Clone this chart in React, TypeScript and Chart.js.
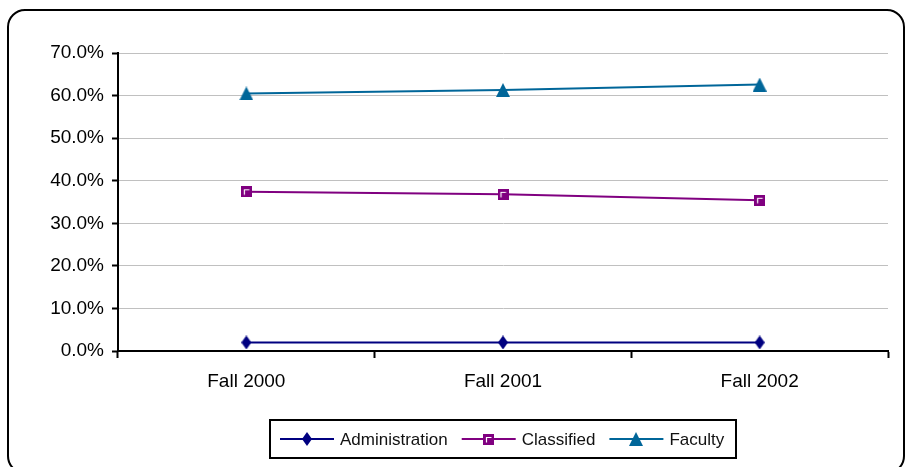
import React, { useEffect, useRef } from "react";
import { Chart, registerables } from "chart.js";

Chart.register(...registerables);

const categories = ["Fall 2000", "Fall 2001", "Fall 2002"];
const administration = [2.0, 2.0, 2.0];
const classified = [37.4, 36.8, 35.4];
const faculty = [60.5, 61.3, 62.6];
const yTicksMin = 0;
const yTicksMax = 70;
const yTickStep = 10;

const FONT = '"Liberation Sans", Arial, sans-serif';

function makeMarker(kind: string, color: string): HTMLCanvasElement {
  const c = document.createElement("canvas");
  const ctx = c.getContext("2d")!;
  if (kind === "diamond") {
    c.width = 10; c.height = 14;
    ctx.fillStyle = color;
    ctx.beginPath();
    ctx.moveTo(5, 0); ctx.lineTo(10, 7); ctx.lineTo(5, 14); ctx.lineTo(0, 7);
    ctx.closePath(); ctx.fill();
  } else if (kind === "square") {
    c.width = 11; c.height = 11;
    ctx.fillStyle = color;
    ctx.fillRect(0, 0, 11, 11);
    ctx.strokeStyle = "#ffffff";
    ctx.lineWidth = 1.2;
    ctx.beginPath();
    ctx.moveTo(3.5, 8.5); ctx.lineTo(3.5, 3.5); ctx.lineTo(8.5, 3.5);
    ctx.stroke();
  } else {
    c.width = 14; c.height = 14;
    ctx.fillStyle = color;
    ctx.beginPath();
    ctx.moveTo(7, 0); ctx.lineTo(14, 14); ctx.lineTo(0, 14);
    ctx.closePath(); ctx.fill();
  }
  return c;
}

const boxLegend = {
  id: "boxLegend",
  afterDraw(chart: any) {
    const ctx = chart.ctx as CanvasRenderingContext2D;
    const area = chart.chartArea;
    ctx.save();
    ctx.font = `17px ${FONT}`;
    const lineLen = 54, gapText = 6, gapItem = 14, padL = 10, padR = 12;
    const items = chart.data.datasets.map((ds: any) => ({
      label: ds.label,
      color: ds.borderColor,
      img: ds.pointStyle,
      w: ctx.measureText(ds.label).width,
    }));
    const total =
      padL + padR + gapItem * (items.length - 1) +
      items.reduce((s: number, it: any) => s + lineLen + gapText + it.w, 0);
    const cx = (area.left + area.right) / 2;
    const left = Math.round(cx - total / 2);
    const top = Math.round(area.bottom + 69);
    const h = 38;
    ctx.lineWidth = 2;
    ctx.strokeStyle = "#000";
    ctx.strokeRect(left, top, Math.round(total), h);
    const cy = top + h / 2;
    let x = left + padL;
    for (const it of items) {
      ctx.strokeStyle = it.color;
      ctx.lineWidth = 2;
      ctx.beginPath();
      ctx.moveTo(x, cy);
      ctx.lineTo(x + lineLen, cy);
      ctx.stroke();
      const img = it.img as HTMLCanvasElement;
      ctx.drawImage(img, Math.round(x + lineLen / 2 - img.width / 2), Math.round(cy - img.height / 2));
      x += lineLen + gapText;
      ctx.fillStyle = "#111";
      ctx.textBaseline = "middle";
      ctx.textAlign = "left";
      ctx.fillText(it.label, x, cy + 1);
      x += it.w + gapItem;
    }
    ctx.restore();
  },
};

export default function App() {
  const ref = useRef<HTMLCanvasElement>(null);
  useEffect(() => {
    const navy = "#000080";
    const purple = "#800080";
    const teal = "#006699";
    const chart = new Chart(ref.current!, {
      type: "line",
      data: {
        labels: categories,
        datasets: [
          { label: "Administration", data: administration, borderColor: navy, backgroundColor: navy, borderWidth: 2, pointStyle: makeMarker("diamond", navy) as any, pointRadius: 7 },
          { label: "Classified", data: classified, borderColor: purple, backgroundColor: purple, borderWidth: 2, pointStyle: makeMarker("square", purple) as any, pointRadius: 6 },
          { label: "Faculty", data: faculty, borderColor: teal, backgroundColor: teal, borderWidth: 2, pointStyle: makeMarker("triangle", teal) as any, pointRadius: 7 },
        ],
      },
      options: {
        responsive: false,
        animation: false,
        devicePixelRatio: 1,
        layout: { padding: { left: 0, top: 53, right: 18, bottom: 56 } },
        plugins: { legend: { display: false }, tooltip: { enabled: false } },
        scales: {
          x: {
            offset: true,
            afterFit: (s: any) => { s.height = 60; },
            border: { color: "#000", width: 2 },
            grid: { display: true, drawOnChartArea: false, offset: true, tickLength: 7, tickColor: "#000", tickWidth: 2 },
            ticks: { color: "#000", font: { family: FONT, size: 19 }, padding: 12, maxRotation: 0 },
          },
          y: {
            min: yTicksMin,
            max: yTicksMax,
            afterFit: (s: any) => { s.width = 118; },
            border: { color: "#000", width: 2 },
            grid: { color: "#c0c0c0", lineWidth: 1, tickLength: 6, tickColor: "#000", tickWidth: 2 },
            ticks: {
              stepSize: yTickStep,
              color: "#000",
              font: { family: FONT, size: 19 },
              padding: 8,
              callback: (v: any) => Number(v).toFixed(1) + "%",
            },
          },
        },
      },
      plugins: [boxLegend],
    });
    return () => chart.destroy();
  }, []);

  return (
    <div style={{ position: "fixed", left: 0, top: 0, width: 906, height: 467, overflow: "hidden", background: "#fff" }}>
      <div
        style={{
          position: "absolute", left: 7, top: 9, width: 898, height: 465,
          border: "2px solid #000", borderRadius: 18, boxSizing: "border-box",
        }}
      />
      <canvas ref={ref} width={906} height={467} style={{ position: "absolute", left: 0, top: 0, width: 906, height: 467 }} />
    </div>
  );
}
